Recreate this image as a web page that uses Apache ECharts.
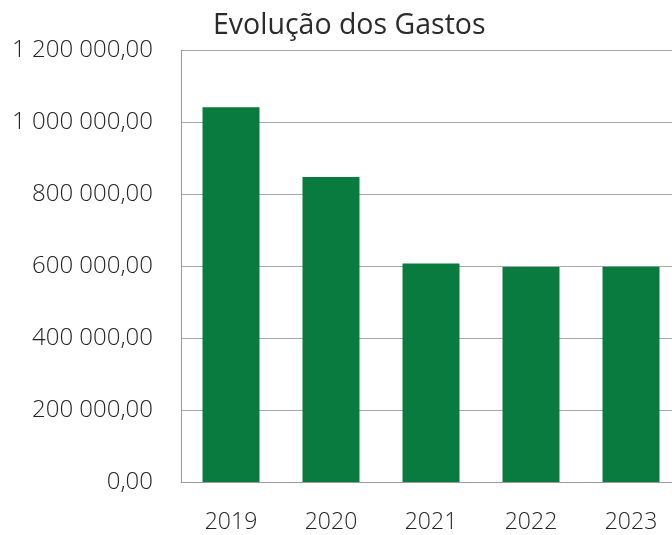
<!DOCTYPE html>
<html><head><meta charset="utf-8">
<script src="https://cdn.jsdelivr.net/npm/echarts@6/dist/echarts.min.js"></script>
<style>html,body{margin:0;padding:0;background:#fff;overflow:hidden;width:672px;height:535px}#c{width:681px;height:535px}</style>
</head><body><div id="c"></div>
<script>
const categories = ['2019', '2020', '2021', '2022', '2023'];
const gastos = [1041000, 847000, 607000, 597000, 598000];
const yTicks = [0, 200000, 400000, 600000, 800000, 1000000, 1200000];

function fmt(v) {
  const s = Math.round(v).toString().replace(/\B(?=(\d{3})+(?!\d))/g, ' ');
  return s + ',00';
}

const chart = echarts.init(document.getElementById('c'), null, {renderer: 'canvas'});
chart.setOption({
  animation: false,
  backgroundColor: '#ffffff',
  title: {
    text: 'Evolução dos Gastos',
    left: 208, top: 6,
    textStyle: {fontFamily: 'Open Sans', fontWeight: 'normal', fontSize: 28.5, color: '#2b2b2b'}
  },
  grid: {left: 181, right: 0, top: 50, bottom: 53, containLabel: false},
  xAxis: {
    type: 'category', data: categories,
    axisLine: {show: true, lineStyle: {color: '#9a9a9a', width: 1}},
    axisTick: {show: false},
    axisLabel: {fontFamily: 'Open Sans', fontWeight: 300, fontSize: 23, color: '#222', margin: 29}
  },
  yAxis: {
    type: 'value', min: yTicks[0], max: yTicks[yTicks.length - 1], interval: 200000,
    axisLine: {show: true, lineStyle: {color: '#9a9a9a', width: 1}},
    axisTick: {show: false},
    splitLine: {lineStyle: {color: '#a8a8a8', width: 1}},
    axisLabel: {fontFamily: 'Open Sans', fontWeight: 300, fontSize: 24, color: '#222', margin: 28, formatter: fmt}
  },
  series: [{
    type: 'bar', data: gastos, barWidth: '57%',
    itemStyle: {color: '#0a7b3e'}
  }]
});
</script></body></html>
